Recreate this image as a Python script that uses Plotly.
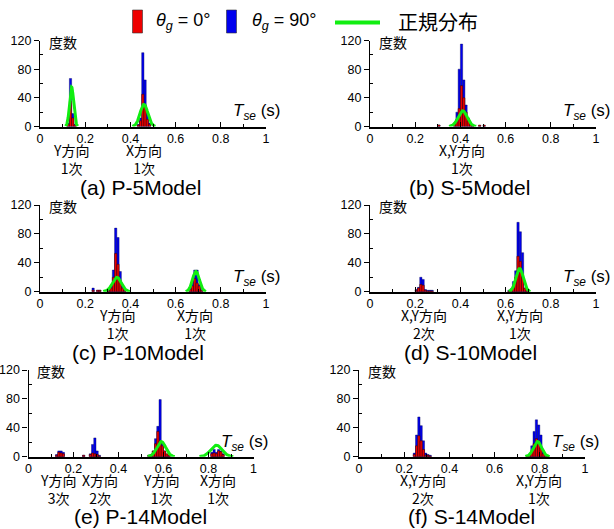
import numpy as np
import plotly.graph_objects as go

W, H = 614, 529
BIN = 0.01

# ---------------- data (bin centres, counts) ----------------
# (a) P-5Model
a_x = [0.125, 0.135, 0.145, 0.155, 0.435, 0.445, 0.455, 0.465, 0.475, 0.485]
a_blue = [5, 67, 18, 3, 3, 12, 103, 65, 20, 5]
a_red = [3, 35, 12, 2, 2, 8, 45, 30, 10, 3]
a_norm_mu = [0.14, 0.46]
a_norm_sd = [0.009, 0.017]
a_norm_pk = [55, 31]
a_mark_x = [0.14, 0.46]
a_lab_x = [0.139, 0.462]
a_labels = ["Y方向<br>1次", "X方向<br>1次"]

# (b) S-5Model
b_x = [0.305, 0.375, 0.385, 0.395, 0.405, 0.415, 0.425, 0.435, 0.445, 0.455, 0.485, 0.505]
b_blue = [2, 5, 20, 80, 115, 65, 30, 12, 4, 2, 1, 1]
b_red = [2, 3, 10, 25, 57, 40, 20, 8, 4, 2, 2, 2]
b_norm_mu = [0.41]
b_norm_sd = [0.02]
b_norm_pk = [22]
b_mark_x = [0.414]
b_lab_x = [0.405]
b_labels = ["X,Y方向<br>1次"]

# (c) P-10Model
c_x = [0.235, 0.255, 0.265, 0.305, 0.315, 0.325, 0.335, 0.345, 0.355, 0.365, 0.375,
       0.665, 0.675, 0.685, 0.695, 0.705, 0.715]
c_blue = [5, 2, 2, 3, 8, 30, 88, 75, 28, 8, 3, 5, 15, 30, 30, 10, 3]
c_red = [2, 2, 2, 2, 5, 20, 53, 38, 15, 5, 2, 3, 8, 18, 12, 8, 2]
c_norm_mu = [0.34, 0.69]
c_norm_sd = [0.02, 0.015]
c_norm_pk = [20, 28]
c_mark_x = [0.34, 0.692]
c_lab_x = [0.341, 0.684]
c_labels = ["Y方向<br>1次", "X方向<br>1次"]

# (d) S-10Model
d_x = [0.205, 0.215, 0.225, 0.235, 0.245, 0.255, 0.265, 0.275,
       0.615, 0.625, 0.635, 0.645, 0.655, 0.665, 0.675, 0.685, 0.695]
d_blue = [3, 6, 20, 17, 3, 2, 2, 2, 2, 4, 14, 29, 96, 83, 54, 5, 2]
d_red = [2, 5, 10, 9, 2, 1, 1, 1, 1, 3, 8, 20, 49, 42, 20, 5, 2]
d_norm_mu = [0.662]
d_norm_sd = [0.016]
d_norm_pk = [32]
d_mark_x = [0.245, 0.664]
d_lab_x = [0.239, 0.662]
d_labels = ["X,Y方向<br>2次", "X,Y方向<br>1次"]

# (e) P-14Model
e_x = [0.125, 0.135, 0.145, 0.155, 0.245, 0.275, 0.285, 0.295, 0.305, 0.315,
       0.535, 0.545, 0.555, 0.565, 0.575, 0.585, 0.595, 0.605, 0.615, 0.625,
       0.815, 0.825, 0.835, 0.845, 0.855, 0.865]
e_blue = [3, 8, 8, 6, 2, 4, 17, 26, 8, 2,
          2, 3, 8, 25, 42, 79, 20, 8, 3, 2,
          6, 10, 6, 10, 8, 4]
e_red = [2, 6, 5, 4, 2, 3, 5, 4, 3, 1,
         2, 3, 8, 18, 35, 22, 15, 8, 4, 2,
         4, 5, 4, 8, 7, 3]
e_norm_mu = [0.59, 0.835]
e_norm_sd = [0.02, 0.025]
e_norm_pk = [21, 16]
e_mark_x = [0.145, 0.31, 0.595, 0.845]
e_lab_x = [0.133, 0.318, 0.591, 0.844]
e_labels = ["Y方向<br>3次", "X方向<br>2次", "Y方向<br>1次", "X方向<br>1次"]

# (f) S-14Model
f_x = [0.245, 0.255, 0.265, 0.275, 0.285, 0.295, 0.305, 0.315,
       0.745, 0.755, 0.765, 0.775, 0.785, 0.795, 0.805, 0.815, 0.825, 0.835]
f_blue = [5, 30, 55, 43, 22, 5, 3, 2, 1, 3, 15, 35, 51, 44, 30, 8, 3, 2]
f_red = [3, 15, 29, 22, 10, 2, 2, 1, 1, 2, 8, 18, 25, 22, 12, 4, 2, 1]
f_norm_mu = [0.79]
f_norm_sd = [0.018]
f_norm_pk = [21]
f_mark_x = [0.285, 0.797]
f_lab_x = [0.283, 0.796]
f_labels = ["X,Y方向<br>2次", "X,Y方向<br>1次"]

titles = ["(a) P-5Model", "(b) S-5Model", "(c) P-10Model",
          "(d) S-10Model", "(e) P-14Model", "(f) S-14Model"]
y_ticks = [0, 40, 80, 120]
x_ticks = [0, 0.2, 0.4, 0.6, 0.8, 1]
x_ticktext = ["0", "0.2", "0.4", "0.6", "0.8", "1"]

panels = [
    (a_x, a_blue, a_red, a_norm_mu, a_norm_sd, a_norm_pk, a_mark_x, a_lab_x, a_labels),
    (b_x, b_blue, b_red, b_norm_mu, b_norm_sd, b_norm_pk, b_mark_x, b_lab_x, b_labels),
    (c_x, c_blue, c_red, c_norm_mu, c_norm_sd, c_norm_pk, c_mark_x, c_lab_x, c_labels),
    (d_x, d_blue, d_red, d_norm_mu, d_norm_sd, d_norm_pk, d_mark_x, d_lab_x, d_labels),
    (e_x, e_blue, e_red, e_norm_mu, e_norm_sd, e_norm_pk, e_mark_x, e_lab_x, e_labels),
    (f_x, f_blue, f_red, f_norm_mu, f_norm_sd, f_norm_pk, f_mark_x, f_lab_x, f_labels),
]

# pixel layout of each axes box: (x0, x1, ytop, ybottom)
boxes = [
    (40, 266, 40.5, 126.5),
    (370, 596, 40.5, 126.5),
    (40, 266, 205, 291.7),
    (370, 596, 205, 291.7),
    (28.5, 253.5, 370, 456.7),
    (359, 585, 370, 456.7),
]
# title centres (pixels)
title_pos = [(140, 187), (469, 187), (138, 352), (470, 352), (140, 516), (471, 516)]

FONT = "Liberation Sans, Arial, Helvetica, sans-serif"
JFONT = "Noto Sans CJK JP, Liberation Sans, sans-serif"
BLUE = "#0000ee"
RED = "#ee0000"
GREEN = "#11ee11"

fig = go.Figure()
layout = dict(
    template="none",
    width=W, height=H, margin=dict(l=0, r=0, t=0, b=0, pad=0, autoexpand=False),
    paper_bgcolor="white", plot_bgcolor="white",
    showlegend=False, barmode="overlay",
    font=dict(family=FONT, size=13, color="black"),
)
annotations = []
shapes = []

def px2paper(xp, yp):
    return xp / W, 1 - yp / H

for i, (px, pb, pr, mus, sds, pks, mx, lx, labs) in enumerate(panels):
    n = i + 1
    xa = "x" if n == 1 else f"x{n}"
    ya = "y" if n == 1 else f"y{n}"
    x0, x1, yt, yb = boxes[i]
    fig.add_trace(go.Bar(x=px, y=pb, width=BIN, xaxis=xa, yaxis=ya,
                         marker=dict(color=BLUE, line=dict(color="#000055", width=0.4))))
    fig.add_trace(go.Bar(x=px, y=pr, width=BIN, xaxis=xa, yaxis=ya,
                         marker=dict(color=RED, line=dict(color="#330000", width=0.5))))
    for mu, sd, pk in zip(mus, sds, pks):
        xs = np.linspace(mu - 3.0 * sd, mu + 3.0 * sd, 81)
        ys = pk * np.exp(-0.5 * ((xs - mu) / sd) ** 2)
        fig.add_trace(go.Scatter(x=xs, y=ys, mode="lines", xaxis=xa, yaxis=ya,
                                 line=dict(color=GREEN, width=3), cliponaxis=False))
    fig.add_trace(go.Scatter(x=mx, y=[-11] * len(mx), mode="markers", xaxis=xa, yaxis=ya,
                             marker=dict(symbol="triangle-up", size=12.5, color="black",
                                         line=dict(width=0)),
                             cliponaxis=False))

    xkey = "xaxis" if n == 1 else f"xaxis{n}"
    ykey = "yaxis" if n == 1 else f"yaxis{n}"
    layout[xkey] = dict(
        domain=[x0 / W, x1 / W], anchor=ya, range=[0, 1], automargin=False,
        showgrid=False, zeroline=False, showline=True, linecolor="black", linewidth=1.5,
        ticks="inside", ticklen=5, tickwidth=1, tickcolor="black",
        tickvals=x_ticks, ticktext=x_ticktext, tickfont=dict(size=12.5),
        minor=dict(ticks="inside", ticklen=3, tickwidth=1, tickcolor="black", dtick=0.1,
                   showgrid=False),
    )
    layout[ykey] = dict(
        domain=[1 - yb / H, 1 - yt / H], anchor=xa, range=[0, 120], automargin=False,
        showgrid=False, zeroline=False, showline=True, linecolor="black", linewidth=1.2,
        ticks="outside", ticklen=5, tickwidth=1, tickcolor="black",
        tickvals=y_ticks, tickfont=dict(size=12.5),
        minor=dict(ticks="inside", ticklen=3, tickwidth=1, tickcolor="black",
                   tickvals=[20, 60, 100], showgrid=False),
    )
    # 度数 label
    annotations.append(dict(text="度数", xref=xa, yref=ya, x=0.03, y=118,
                            xanchor="left", yanchor="middle", showarrow=False,
                            font=dict(family=JFONT, size=14)))
    # Tse (s)
    annotations.append(dict(text="<i>T</i><sub><i>se</i></sub> (s)", xref=xa, yref=ya,
                            x=1, y=0, xanchor="right", yanchor="middle",
                            xshift=17, yshift=14, showarrow=False,
                            font=dict(family=FONT, size=17)))
    # mode labels (two lines)
    for xm, t in zip(lx, labs):
        annotations.append(dict(text=t, xref=xa, yref=ya, x=xm, y=0, yshift=-32.5,
                                xanchor="center", yanchor="middle", showarrow=False,
                                borderpad=0, font=dict(family=JFONT, size=14)))
    # panel title
    tx, ty = px2paper(*title_pos[i])
    annotations.append(dict(text=titles[i], xref="paper", yref="paper",
                            x=tx, y=ty, xanchor="center", yanchor="middle", showarrow=False,
                            font=dict(family=FONT, size=21)))

# ---------------- legend (drawn manually) ----------------
for (xl, xr), col in [((132.5, 142.5), RED), ((226.5, 236.5), BLUE)]:
    xa0, ya0 = px2paper(xl, 33)
    xa1, ya1 = px2paper(xr, 10)
    shapes.append(dict(type="rect", xref="paper", yref="paper", x0=xa0, x1=xa1,
                       y0=ya0, y1=ya1, fillcolor=col, line=dict(color="#333333", width=0.6)))
gx0, gy = px2paper(335, 22.5)
gx1, _ = px2paper(380, 22.5)
shapes.append(dict(type="line", xref="paper", yref="paper", x0=gx0, x1=gx1, y0=gy, y1=gy,
                   line=dict(color=GREEN, width=4)))
for xt, txt, fam, fs in [(154, "<i>θ</i><sub><i>g</i></sub> = 0°", FONT, 18),
                         (250, "<i>θ</i><sub><i>g</i></sub> = 90°", FONT, 18),
                         (396, "正規分布", JFONT, 20)]:
    xp, yp = px2paper(xt, 21)
    annotations.append(dict(text=txt, xref="paper", yref="paper", x=xp, y=yp,
                            xanchor="left", yanchor="middle", showarrow=False,
                            font=dict(family=fam, size=fs)))

layout["annotations"] = annotations
layout["shapes"] = shapes
fig.update_layout(**layout)
fig.write_html("out.html",
               config={"displayModeBar": False},
               post_script="document.body.style.margin='0px';document.body.style.overflow='hidden';")
